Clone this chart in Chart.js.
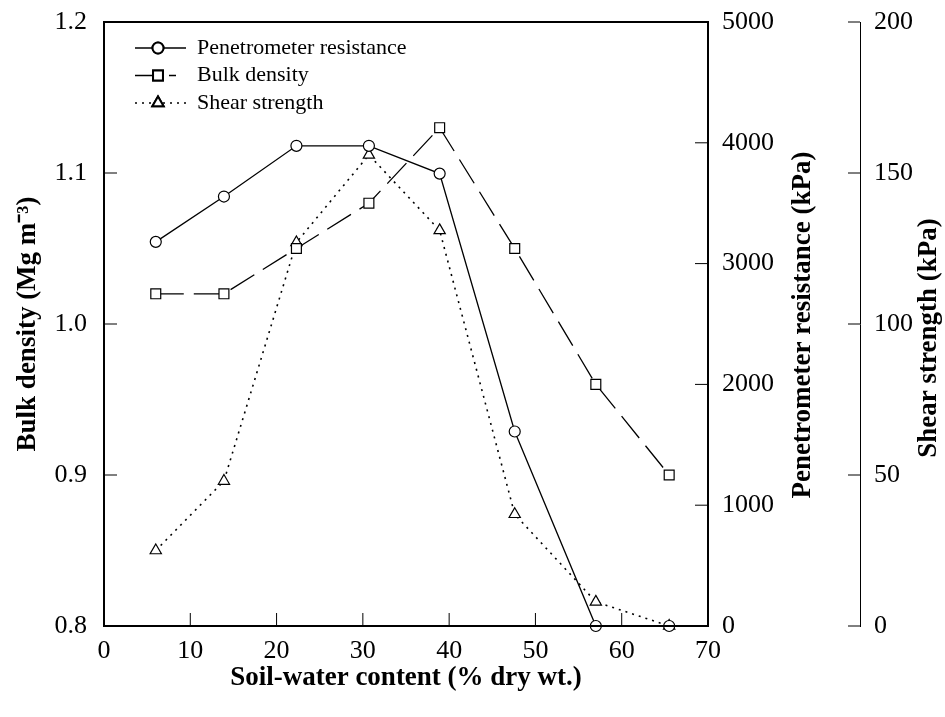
<!DOCTYPE html>
<html>
<head>
<meta charset="utf-8">
<script src="https://cdn.jsdelivr.net/npm/chart.js@4.4.1/dist/chart.umd.min.js"></script>
<style>
  html, body { margin: 0; padding: 0; background: #fff; }
  #wrap { width: 945px; height: 717px; }
</style>
</head>
<body>
<div id="wrap"><canvas id="grafico"></canvas></div>
<script>
// contenido de agua del suelo (% peso seco)
const humedad = [6.0, 13.9, 22.3, 30.7, 38.9, 47.6, 57.0, 65.5];
const penetrometro = [3180, 3555, 3975, 3975, 3745, 1610, 0, 0];        // kPa
const densidad = [1.02, 1.02, 1.05, 1.08, 1.13, 1.05, 0.96, 0.90];      // Mg m-3
const corte = [25, 48, 127, 156, 131, 37, 8, 0];                        // kPa

const ticksX = [0, 10, 20, 30, 40, 50, 60, 70];
const ticksDensidad = [0.8, 0.9, 1.0, 1.1, 1.2];
const ticksPenetrometro = [0, 1000, 2000, 3000, 4000, 5000];
const ticksCorte = [0, 50, 100, 150, 200];

const serif = "'Liberation Serif', 'Times New Roman', serif";
const tamTick = 26;
const tamTitulo = 27;

function puntos(ys) {
    return humedad.map((x, i) => ({ x: x, y: ys[i] }));
}

function fijarTicks(valores) {
    return function (scale) {
        scale.ticks = valores.map(v => ({ value: v }));
    };
}

// ancho fijo de cada eje vertical, sin relleno extra arriba/abajo
function anchoFijo(ancho) {
    return function (sc) {
        sc.width = ancho;
        sc.paddingTop = 0;
        sc.paddingBottom = 0;
    };
}

// muestra de linea de la leyenda: [fin de la linea, patron]
const muestraLeyenda = [
    [186, []],
    [176, [27, 7]],
    [186, [2, 5]]
];

// marco, marcas hacia dentro, titulos de los ejes derechos y leyenda
const extras = {
    id: 'extras',
    afterDraw(chart) {
        const ctx = chart.ctx;
        const a = chart.chartArea;
        const s = chart.scales;
        const largo = 13;
        ctx.save();
        ctx.strokeStyle = '#000';

        ctx.lineWidth = 1;
        ctx.beginPath();
        ticksX.forEach(v => {
            const px = s.x.getPixelForValue(v);
            ctx.moveTo(px, a.bottom);
            ctx.lineTo(px, a.bottom - largo);
        });
        ticksDensidad.forEach(v => {
            const py = s.y.getPixelForValue(v);
            ctx.moveTo(a.left, py);
            ctx.lineTo(a.left + largo, py);
        });
        ticksPenetrometro.forEach(v => {
            const py = s.y1.getPixelForValue(v);
            ctx.moveTo(a.right, py);
            ctx.lineTo(a.right - largo, py);
        });
        ticksCorte.forEach(v => {
            const py = s.y2.getPixelForValue(v);
            ctx.moveTo(s.y2.left, py);
            ctx.lineTo(s.y2.left - 12, py);
        });
        ctx.stroke();

        ctx.lineWidth = 2;
        ctx.strokeRect(a.left, a.top, a.right - a.left, a.bottom - a.top);

        // titulos verticales de la derecha, leidos de abajo hacia arriba
        ctx.fillStyle = '#000';
        ctx.font = 'bold ' + tamTitulo + 'px ' + serif;
        ctx.textAlign = 'center';
        ctx.textBaseline = 'middle';
        [[s.y1, 803, 325], [s.y2, 929, 338]].forEach(([esc, tx, ty]) => {
            ctx.save();
            ctx.translate(tx, ty);
            ctx.rotate(-Math.PI / 2);
            ctx.fillText(esc.options.title.text, 0, 0);
            ctx.restore();
        });

        // leyenda
        ctx.font = '22px ' + serif;
        ctx.textAlign = 'left';
        chart.data.datasets.forEach((ds, i) => {
            const y = 48 + i * 27.5;
            const [fin, patron] = muestraLeyenda[i];
            ctx.save();
            ctx.lineWidth = ds.borderWidth;
            ctx.setLineDash(patron);
            ctx.beginPath();
            ctx.moveTo(135, y);
            ctx.lineTo(fin, y);
            ctx.stroke();
            ctx.restore();
            Chart.helpers.drawPoint(ctx, {
                pointStyle: ds.pointStyle,
                radius: ds.pointRadius,
                borderWidth: ds.pointBorderWidth || 1
            }, 158, y);
            ctx.fillStyle = '#fff';
            ctx.fill();
            ctx.stroke();
            ctx.fillStyle = '#000';
            ctx.fillText(ds.label, 197, y);
        });
        ctx.restore();
    }
};

new Chart(document.getElementById('grafico'), {
    type: 'line',
    data: {
        datasets: [
            {
                label: 'Penetrometer resistance',
                data: puntos(penetrometro),
                yAxisID: 'y1',
                borderColor: '#000',
                borderWidth: 1.3,
                pointStyle: 'circle',
                pointRadius: 5.5,
                pointBorderWidth: 1.2,
                pointBackgroundColor: '#fff',
                pointBorderColor: '#000',
                clip: false
            },
            {
                label: 'Bulk density',
                data: puntos(densidad),
                yAxisID: 'y',
                borderColor: '#000',
                borderWidth: 1.3,
                borderDash: [28, 10],
                pointStyle: 'rect',
                pointRadius: 7,
                pointBorderWidth: 1.2,
                pointBackgroundColor: '#fff',
                pointBorderColor: '#000',
                clip: false
            },
            {
                label: 'Shear strength',
                data: puntos(corte),
                yAxisID: 'y2',
                borderColor: '#000',
                borderWidth: 1.6,
                borderDash: [2, 5],
                pointStyle: 'triangle',
                pointRadius: 6.5,
                pointBorderWidth: 1.2,
                pointBackgroundColor: '#fff',
                pointBorderColor: '#000',
                clip: false
            }
        ]
    },
    options: {
        responsive: true,
        maintainAspectRatio: false,
        animation: false,
        layout: { padding: { top: 22, right: 0, left: 0, bottom: 0 } },
        plugins: {
            legend: { display: false },
            tooltip: { enabled: false }
        },
        elements: { line: { tension: 0 } },
        scales: {
            x: {
                type: 'linear',
                min: 0, max: 70,
                afterBuildTicks: fijarTicks(ticksX),
                afterFit: sc => { sc.height = 91; },
                grid: { display: false, drawTicks: false },
                border: { display: false },
                ticks: { color: '#000', padding: 10, font: { family: serif, size: tamTick } },
                title: {
                    display: true,
                    text: 'Soil-water content (% dry wt.)',
                    color: '#000',
                    font: { family: serif, size: tamTitulo, weight: 'bold' },
                    padding: { top: 0, bottom: 23 }
                }
            },
            y: {
                position: 'left',
                min: 0.8, max: 1.2,
                afterBuildTicks: fijarTicks(ticksDensidad),
                afterFit: anchoFijo(104),
                grid: { display: false, drawTicks: false },
                border: { display: false },
                ticks: {
                    color: '#000', padding: 17,
                    font: { family: serif, size: tamTick },
                    callback: v => v.toFixed(1)
                },
                title: {
                    display: true,
                    text: 'Bulk density (Mg m⁻³)',
                    color: '#000',
                    font: { family: serif, size: tamTitulo, weight: 'bold' },
                    padding: { top: 12, bottom: 0 }
                }
            },
            y1: {
                position: 'right',
                weight: 0,
                min: 0, max: 5000,
                afterBuildTicks: fijarTicks(ticksPenetrometro),
                afterFit: anchoFijo(152),
                grid: { display: false, drawTicks: false },
                border: { display: false },
                ticks: {
                    color: '#000', padding: 14,
                    font: { family: serif, size: tamTick },
                    callback: v => String(v)
                },
                title: { display: false, text: 'Penetrometer resistance (kPa)' }
            },
            y2: {
                position: 'right',
                weight: 1,
                min: 0, max: 200,
                afterBuildTicks: fijarTicks(ticksCorte),
                afterFit: anchoFijo(85),
                grid: { display: false, drawTicks: false },
                border: { display: true, color: '#000', width: 1 },
                ticks: {
                    color: '#000', padding: 14,
                    font: { family: serif, size: tamTick },
                    callback: v => String(v)
                },
                title: { display: false, text: 'Shear strength (kPa)' }
            }
        }
    },
    plugins: [extras]
});
</script>
</body>
</html>
